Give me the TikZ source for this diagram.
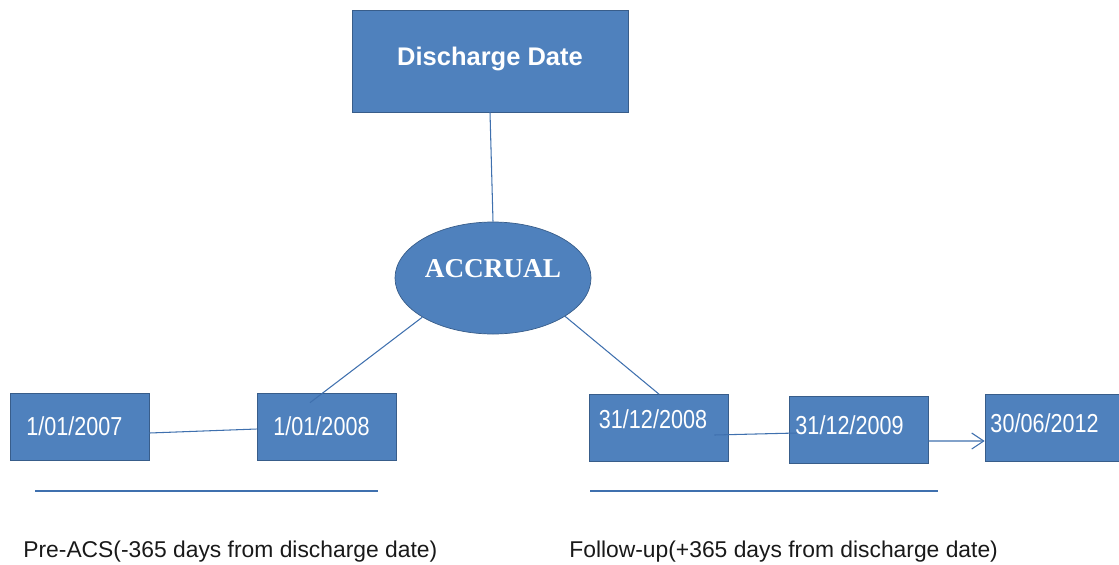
\documentclass[tikz,border=0pt]{standalone}
\usepackage{fontspec}
\setmainfont{Liberation Sans}
\newfontfamily\narrowsans[FakeStretch=0.83]{Liberation Sans}
\newfontfamily\timesfont{Liberation Serif}
\usetikzlibrary{arrows.meta,shapes.geometric,calc}
\definecolor{boxBlue}{HTML}{4F81BD}
\definecolor{edgeBlue}{HTML}{385D8A}
\definecolor{lineBlue}{HTML}{3F70AE}

\begin{document}
\begin{tikzpicture}[
    topbox/.style={draw=edgeBlue, fill=boxBlue, minimum width=5.52cm, minimum height=2.04cm, text=white, font=\bfseries\fontsize{14.5}{17}\selectfont},
    hub/.style={ellipse, draw=edgeBlue, fill=boxBlue, minimum width=3.92cm, minimum height=2.24cm, inner sep=0pt, text=white, font=\timesfont\bfseries\fontsize{15.5}{18}\selectfont},
    datebox/.style={draw=edgeBlue, fill=boxBlue, minimum width=2.78cm, minimum height=1.34cm, inner sep=0pt, text=white, font=\narrowsans\fontsize{14.8}{16}\selectfont},
    link/.style={lineBlue, line width=0.6pt},
    arr/.style={link, -{Straight Barb[length=0.24cm, width=0.32cm]}},
    span/.style={lineBlue, line width=0.9pt},
    note/.style={anchor=base west, inner sep=0pt, font=\fontsize{13}{15}\selectfont, text=black!90}
]
\useasboundingbox (0,0) rectangle (22.38,-11.28);

% Discharge date and accrual.
\node[topbox] (dd) at (9.80,-1.22) {\raisebox{0.2cm}{Discharge Date}};
\node[hub] (acc) at (9.86,-5.56) {\raisebox{0.4cm}{ACCRUAL}};

% Dates along the time line.
\node[datebox] (d07) at (1.59,-8.53) {1/01/2007\kern0.2cm};
\node[datebox] (d08) at (6.53,-8.53) {1/01/2008\kern0.2cm};
\node[datebox] (d0812) at (13.18,-8.56) {\raisebox{0.34cm}{31/12/2008}\kern0.24cm};
\node[datebox] (d0912) at (17.17,-8.60) {\raisebox{0.18cm}{31/12/2009}\kern0.36cm};
\node[datebox] (d0612) at (21.09,-8.56) {\raisebox{0.18cm}{30/06/2012}\kern0.4cm};

% Connectors.
\draw[link] (dd.south) -- (acc.north);
\draw[link] (acc.209.5) -- ($(d08.north)+(-0.33,-0.2)$);
\draw[link] (acc.-28) -- (d0812.north);
\draw[link] ([yshift=-0.13cm]d07.east) -- ([yshift=-0.05cm]d08.west);
\draw[link] ([xshift=-0.29cm, yshift=-0.14cm]d0812.east) -- ([xshift=0.16cm, yshift=-0.06cm]d0912.west);
\draw[arr] ([yshift=-0.22cm]d0912.east) -- ([yshift=-0.26cm]d0612.west);

% Periods below.
\draw[span] (0.70,-9.82) -- (7.56,-9.82);
\draw[span] (11.80,-9.82) -- (18.76,-9.82);
\node[note] (pre) at (0.46,-11.14) {Pre-ACS(-365 days from discharge date)};
\node[note] (post) at (11.38,-11.14) {Follow-up(+365 days from discharge date)};
\end{tikzpicture}
\end{document}
